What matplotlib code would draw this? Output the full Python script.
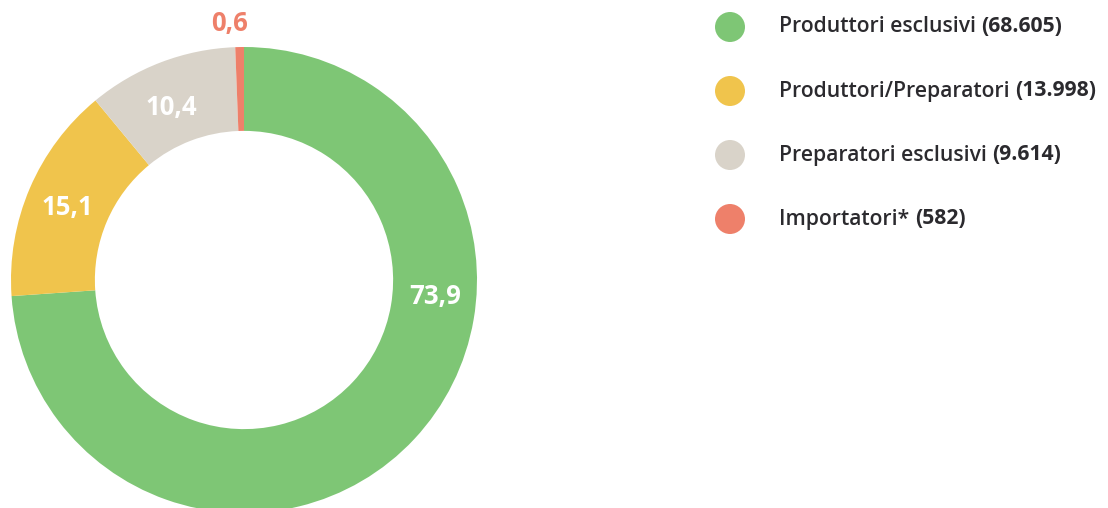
import matplotlib
matplotlib.use("Agg")
import matplotlib.pyplot as plt
import numpy as np

categories = ["Produttori esclusivi", "Produttori/Preparatori", "Preparatori esclusivi", "Importatori*"]
counts_labels = ["68.605", "13.998", "9.614", "582"]
percent = [73.9, 15.1, 10.4, 0.6]
percent_labels = ["73,9", "15,1", "10,4", "0,6"]
colors = ["#7EC675", "#F0C44C", "#D9D3C9", "#EE806A"]

W, H = 1108, 508
fig = plt.figure(figsize=(W / 100, H / 100), dpi=100)
FONT = "Open Sans"
LFONT = "Open Sans"
TXT = "#2B2A2E"

cx, cy, R = 244, 280, 233
ax = fig.add_axes([(cx - R) / W, (H - cy - R) / H, 2 * R / W, 2 * R / H])
wedges, _ = ax.pie(percent, colors=colors, startangle=90, counterclock=False,
                   radius=1.0, wedgeprops=dict(width=0.36, linewidth=0))
ax.set_xlim(-1, 1)
ax.set_ylim(-1, 1)
ax.set_aspect("equal")
ax.axis("off")
for w in wedges:
    w.set_clip_on(False)

# label positions (data coords)
label_pos = [(0.82, -0.07), (-0.76, 0.31), (-0.31, 0.74), (-0.06, 1.10)]
label_cols = ["white", "white", "white", colors[3]]
for (x, y), t, c in zip(label_pos, percent_labels, label_cols):
    ax.text(x, y, t, ha="center", va="center", color=c, fontsize=18.5,
            fontweight="bold", family=FONT, clip_on=False)

# legend
rows_y = [27, 91, 155, 219]
for yy, cat, cnt, col in zip(rows_y, categories, counts_labels, colors):
    fig.patches.append(matplotlib.patches.Ellipse((730 / W, 1 - yy / H), 30 / W, 30 / H,
                                                  transform=fig.transFigure, color=col, lw=0))
    t1 = fig.text(779 / W, 1 - yy / H, cat + " ", ha="left", va="center",
                  fontsize=15.2, fontweight="semibold", family=LFONT, color=TXT)
    ax.annotate("(" + cnt + ")", xy=(1, 0), xycoords=t1, ha="left", va="bottom",
                fontsize=15.2, fontweight="bold", family=LFONT, color=TXT,
                annotation_clip=False)

fig.savefig("out.png", dpi=100)
